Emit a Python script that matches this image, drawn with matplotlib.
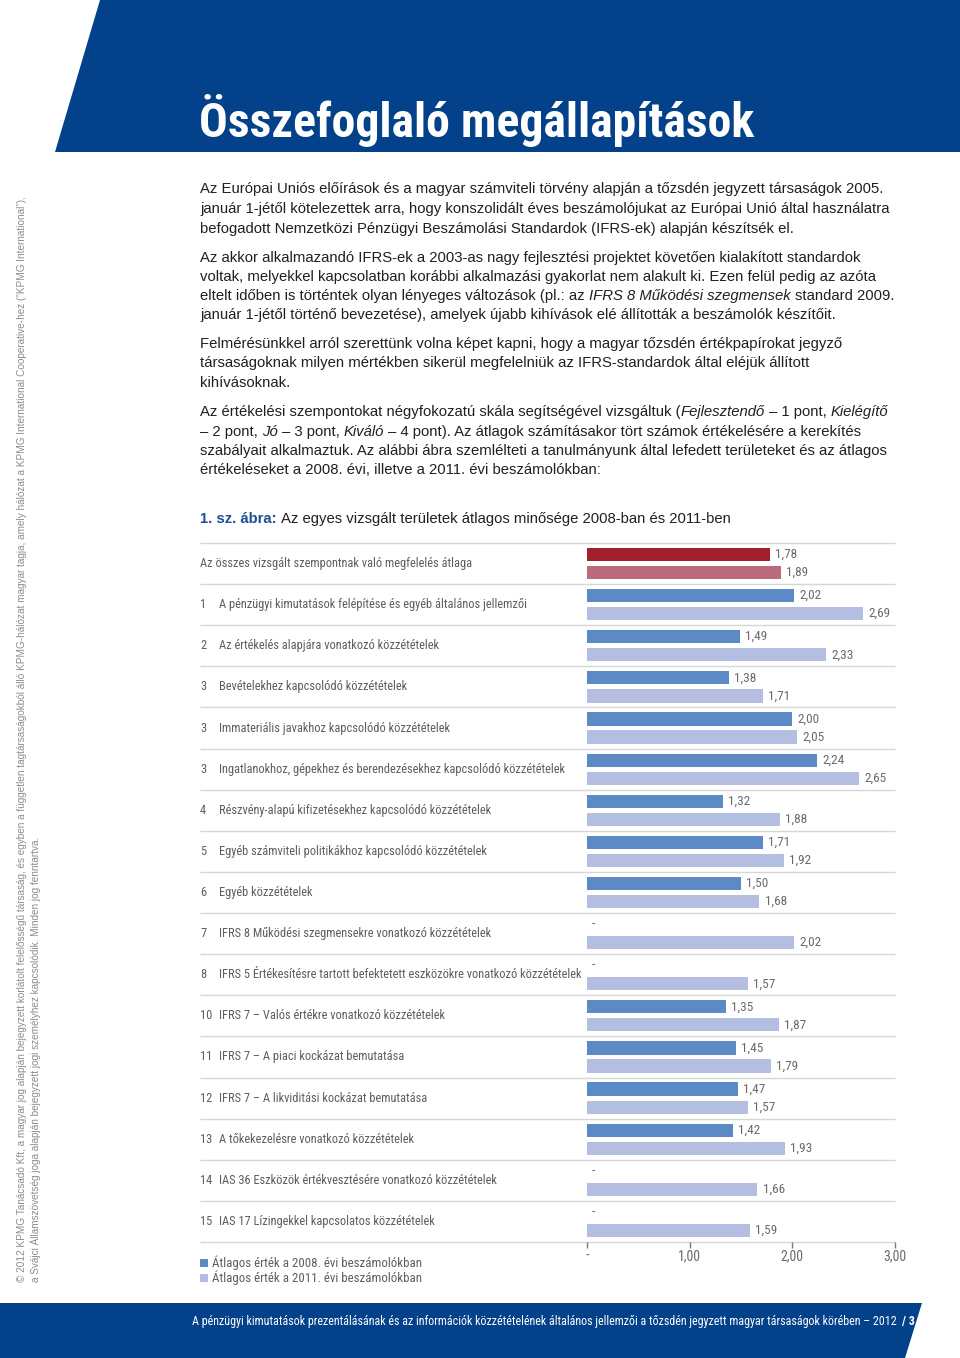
import numpy as np
import matplotlib
matplotlib.use("Agg")
import matplotlib.pyplot as plt
from matplotlib.patches import Polygon, Rectangle
from matplotlib.transforms import blended_transform_factory
from matplotlib import font_manager

# Data

category_nums = ["", "1", "2", "3", "3", "3", "4", "5", "6", "7", "8",
                 "10", "11", "12", "13", "14", "15"]
categories = [
    "Az összes vizsgált szempontnak való megfelelés átlaga",
    "A pénzügyi kimutatások felépítése és egyéb általános jellemzői",
    "Az értékelés alapjára vonatkozó közzétételek",
    "Bevételekhez kapcsolódó közzétételek",
    "Immateriális javakhoz kapcsolódó közzétételek",
    "Ingatlanokhoz, gépekhez és berendezésekhez kapcsolódó közzétételek",
    "Részvény-alapú kifizetésekhez kapcsolódó közzétételek",
    "Egyéb számviteli politikákhoz kapcsolódó közzétételek",
    "Egyéb közzétételek",
    "IFRS 8 Működési szegmensekre vonatkozó közzétételek",
    "IFRS 5 Értékesítésre tartott befektetett eszközökre vonatkozó közzétételek",
    "IFRS 7 – Valós értékre vonatkozó közzétételek",
    "IFRS 7 – A piaci kockázat bemutatása",
    "IFRS 7 – A likviditási kockázat bemutatása",
    "A tőkekezelésre vonatkozó közzétételek",
    "IAS 36 Eszközök értékvesztésére vonatkozó közzétételek",
    "IAS 17 Lízingekkel kapcsolatos közzétételek",
]
values_2008 = [1.78, 2.02, 1.49, 1.38, 2.00, 2.24, 1.32, 1.71, 1.50,
               np.nan, np.nan, 1.35, 1.45, 1.47, 1.42, np.nan, np.nan]
values_2011 = [1.89, 2.69, 2.33, 1.71, 2.05, 2.65, 1.88, 1.92, 1.68,
               2.02, 1.57, 1.87, 1.79, 1.57, 1.93, 1.66, 1.59]
x_ticks = [0, 1, 2, 3]
x_tick_labels = ["-", "1,00", "2,00", "3,00"]
legend_labels = ["Átlagos érték a 2008. évi beszámolókban",
                 "Átlagos érték a 2011. évi beszámolókban"]

# Fonts / colours

names = {f.name for f in font_manager.fontManager.ttflist}
narrow = next(f for f in ["Roboto Condensed", "Archivo Narrow", "Barlow Semi Condensed",
                          "Liberation Sans Narrow", "DejaVu Sans"] if f in names or f == "DejaVu Sans")
body = "Liberation Sans"

kpmg_blue = "#03418a"
text_dark = "#231f20"
label_grey = "#5e5e5e"
c_2008, c_2011 = "#5b8ac4", "#b3bee0"
c_avg_2008, c_avg_2011 = "#a21f2d", "#bb6a7d"

W, H = 960, 1358
fig = plt.figure(figsize=(W / 100, H / 100), dpi=100)
renderer = fig.canvas.get_renderer()


def fx(x):
    return x / W


def fy(y):
    return 1 - y / H


def runs(x, y, parts, size, color, family):
    # draw a line made of (text, style, weight, colour) pieces one after another
    def width(s, style, weight):
        t = fig.text(0, 0, s, fontsize=size, family=family, fontstyle=style, fontweight=weight)
        w = t.get_window_extent(renderer).width
        t.remove()
        return w
    for s, style, weight, col in parts:
        sp = width("x x", style, weight) - width("xx", style, weight)
        lead = len(s) - len(s.lstrip(" "))
        trail = len(s) - len(s.rstrip(" "))
        x += lead * sp
        core = s.strip(" ")
        if core:
            t = fig.text(fx(x), fy(y), core, fontsize=size, family=family,
                         fontstyle=style, fontweight=weight, color=col or color, va="baseline")
            x += t.get_window_extent(renderer).width
        x += trail * sp
    return x


# Header banner
fig.patches.append(Polygon([[fx(100), fy(0)], [fx(W), fy(0)], [fx(W), fy(152)], [fx(55), fy(152)]],
                           closed=True, transform=fig.transFigure, facecolor=kpmg_blue,
                           edgecolor="none"))
fig.text(fx(199), fy(137), "Összefoglaló megállapítások", fontsize=34.4, family=narrow,
         fontweight="bold", color="white", va="baseline")

# Footer banner
fig.patches.append(Polygon([[fx(0), fy(1303)], [fx(922), fy(1303)], [fx(905), fy(H)], [fx(0), fy(H)]],
                           closed=True, transform=fig.transFigure, facecolor=kpmg_blue,
                           edgecolor="none"))
runs(192, 1325, [("A pénzügyi kimutatások prezentálásának és az információk közzétételének "
                  "általános jellemzői a tőzsdén jegyzett magyar társaságok körében – 2012",
                  "normal", "normal", None),
                 ("  / 3", "normal", "bold", None)], 8.65, "white", narrow)

# Vertical copyright text
fig.text(fx(22), fy(1282),
         "© 2012 KPMG Tanácsadó Kft, a magyar jog alapján bejegyzett korlátolt felelősségű társaság, "
         "és egyben a független tagtársaságokból álló KPMG-hálózat magyar tagja, amely hálózat a KPMG "
         "International Cooperative-hez (“KPMG International”),",
         rotation=90, ha="center", va="bottom", fontsize=7.2, family=body, color="#8c8c8c")
fig.text(fx(35), fy(1282),
         "a Svájci Államszövetség joga alapján bejegyzett jogi személyhez kapcsolódik. Minden jog fenntartva.",
         rotation=90, ha="center", va="bottom", fontsize=7.2, family=body, color="#8c8c8c")

# Body paragraphs
N, I = "normal", "italic"
lines = [
    (193, [("Az Európai Uniós előírások és a magyar számviteli törvény alapján a tőzsdén jegyzett társaságok 2005.", N)]),
    (213, [("január 1-jétől kötelezettek arra, hogy konszolidált éves beszámolójukat az Európai Unió által használatra", N)]),
    (233, [("befogadott Nemzetközi Pénzügyi Beszámolási Standardok (IFRS-ek) alapján készítsék el.", N)]),
    (262, [("Az akkor alkalmazandó IFRS-ek a 2003-as nagy fejlesztési projektet követően kialakított standardok", N)]),
    (281, [("voltak, melyekkel kapcsolatban korábbi alkalmazási gyakorlat nem alakult ki. Ezen felül pedig az azóta", N)]),
    (300, [("eltelt időben is történtek olyan lényeges változások (pl.: az ", N),
           ("IFRS 8 Működési szegmensek", I), (" standard 2009.", N)]),
    (319, [("január 1-jétől történő bevezetése), amelyek újabb kihívások elé állították a beszámolók készítőit.", N)]),
    (348, [("Felmérésünkkel arról szerettünk volna képet kapni, hogy a magyar tőzsdén értékpapírokat jegyző", N)]),
    (367, [("társaságoknak milyen mértékben sikerül megfelelniük az IFRS-standardok által eléjük állított", N)]),
    (387, [("kihívásoknak.", N)]),
    (416, [("Az értékelési szempontokat négyfokozatú skála segítségével vizsgáltuk (", N),
           ("Fejlesztendő", I), (" – 1 pont, ", N), ("Kielégítő", I)]),
    (436, [("– 2 pont, ", N), ("Jó", I), (" – 3 pont, ", N), ("Kiváló", I),
           (" – 4 pont). Az átlagok számításakor tört számok értékelésére a kerekítés", N)]),
    (455, [("szabályait alkalmaztuk. Az alábbi ábra szemlélteti a tanulmányunk által lefedett területeket és az átlagos", N)]),
    (474, [("értékeléseket a 2008. évi, illetve a 2011. évi beszámolókban:", N)]),
]
for y, parts in lines:
    runs(200, y, [(s, st, "normal", None) for s, st in parts], 10.7, text_dark, body)

runs(200, 523, [("1. sz. ábra:", N, "bold", "#1d4f91"),
                (" Az egyes vizsgált területek átlagos minősége 2008-ban és 2011-ben", N, "normal", None)],
     10.7, text_dark, body)

# Chart
n = len(categories)
ax = fig.add_axes([fx(587), fy(1242), fx(895) - fx(587), (1242 - 543) / H])
ax.set_xlim(0, 3)
ax.set_ylim(n, 0)
for s in ax.spines.values():
    s.set_visible(False)

idx = np.arange(n)
v08 = np.array(values_2008, dtype=float)
v11 = np.array(values_2011, dtype=float)
cols08 = [c_avg_2008] + [c_2008] * (n - 1)
cols11 = [c_avg_2011] + [c_2011] * (n - 1)
ok = ~np.isnan(v08)
bar_h = 0.32
ax.barh(idx[ok] + 0.28, v08[ok], height=bar_h, color=np.array(cols08, dtype=object)[ok], zorder=3)
ax.barh(idx + 0.72, v11, height=bar_h, color=cols11, zorder=3)

val_kw = dict(fontsize=9.5, family=narrow, color="#6a6a6a", va="center")
for i in range(n):
    if ok[i]:
        ax.text(v08[i] + 0.05, i + 0.28, f"{v08[i]:.2f}".replace(".", ","), **val_kw)
    else:
        ax.text(0.05, i + 0.26, "-", **val_kw)
    ax.text(v11[i] + 0.05, i + 0.72, f"{v11[i]:.2f}".replace(".", ","), **val_kw)

# separators reaching into the label column
left_data = (200 - 587) / ((895 - 587) / 3)
ax.hlines(np.arange(n + 1), left_data, 3, color="#d6d6d6", lw=1.0, clip_on=False, zorder=1)

# category labels
tr = blended_transform_factory(fig.transFigure, ax.transData)
lab_kw = dict(fontsize=8.95, family=narrow, color=label_grey, va="center", transform=tr)
for i, (num, cat) in enumerate(zip(category_nums, categories)):
    if num:
        ax.text(fx(200), i + 0.5, num, **lab_kw)
        ax.text(fx(219), i + 0.5, cat, **lab_kw)
    else:
        ax.text(fx(200), i + 0.5, cat, **lab_kw)

ax.set_yticks([])
ax.set_xticks(x_ticks)
ax.set_xticklabels(x_tick_labels, family=narrow, fontsize=10, color="#6a6a6a")
ax.tick_params(axis="x", length=4, width=1, color="#7a7a7a", pad=1)

# legend
for k, (lab, c) in enumerate(zip(legend_labels, [c_2008, c_2011])):
    yc = 1263 + 15 * k
    fig.patches.append(Rectangle((fx(200), fy(yc + 4)), 8 / W, 8 / H, transform=fig.transFigure,
                                 facecolor=c, edgecolor="none"))
    fig.text(fx(212), fy(yc), lab, fontsize=9.3, family=narrow, color=label_grey, va="center")

fig.savefig("out.png", dpi=100)
